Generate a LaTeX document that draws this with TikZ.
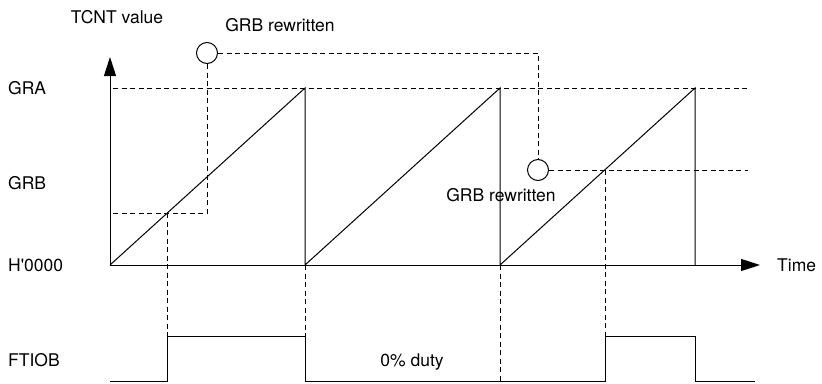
\documentclass[tikz,border=0pt]{standalone}
\usepackage{fontspec}
\setmainfont{TeX Gyre Heros}
\usetikzlibrary{arrows.meta, positioning}

\begin{document}
\begin{tikzpicture}[
        x=1pt, y=-1pt,
        >={Triangle[length=19pt, width=12pt]},
        font=\fontsize{17.5}{20}\selectfont,
        % Define Styles
        wave/.style={line width=1pt, line join=miter},
        guide/.style={line width=1pt, dash pattern=on 5pt off 3.5pt},
        marker/.style={circle, draw, line width=1pt, minimum size=21pt, inner sep=0pt},
        lbl/.style={inner sep=0pt}
    ]
    \useasboundingbox (0,0) rectangle (822,383);

    % --- KEY POINTS ---
    \coordinate (o) at (110,265);
    \coordinate (ytop) at (110,57);
    \coordinate (xend) at (760,265);
    \coordinate (p1) at (305,88);
    \coordinate (p2) at (500,88);
    \coordinate (p3) at (695,88);
    \coordinate (hit1) at (167,213);
    \coordinate (hit2) at (605,170);
    \coordinate (gral) at (113,88);
    \coordinate (grar) at (748,88);
    \coordinate (grbl) at (113,213);
    \coordinate (grbr) at (748,170);
    \coordinate (hi) at (0,336);
    \coordinate (lo) at (0,381);
    \coordinate (outend) at (755,381);

    % --- LABELS ---
    \node[lbl] (tcnt) at (117,17) {TCNT value};
    \node[lbl, anchor=west] (gra) at (8,88) {GRA};
    \node[lbl, anchor=west] (grb) at (8,183) {GRB};
    \node[lbl, anchor=west] (zero) at (8,265) {H\textquotesingle 0000};
    \node[lbl, anchor=west] (ftiob) at (8,360) {FTIOB};
    \node[lbl, anchor=west] (time) at (777,265) {Time};
    \node[lbl, anchor=base] (duty) at (412,366) {0\% duty};

    % --- REWRITE MARKERS ---
    \node[marker] (c1) at (207,53) {};
    \node[marker] (c2) at (538,170) {};
    \node[lbl] (rw1) at (280,25) {GRB rewritten};
    \node[lbl] (rw2) at (501,195) {GRB rewritten};

    % --- AXES ---
    \draw[wave, ->] (o) -- (ytop);
    \draw[wave, ->] (o) -- (xend);

    % --- TCNT SAWTOOTH ---
    \draw[wave] (o) -- (p1) -- (p1 |- o) -- (p2) -- (p2 |- o) -- (p3) -- (p3 |- o);

    % --- GUIDE LINES ---
    \draw[guide] (gral) -- (grar);
    \draw[guide] (c1) -- (c1 -| c2) -- (c2);
    \draw[guide] (c2) -- (grbr);
    \draw[guide] (c1) -- (c1 |- grbl) -- (grbl);
    \draw[guide] (hit1) -- (hit1 |- hi);
    \draw[guide] (hit2) -- (hit2 |- hi);
    \draw[guide] (p1 |- o) -- (p1 |- lo);
    \draw[guide] (p2 |- o) -- (p2 |- lo);

    % --- FTIOB OUTPUT ---
    \draw[wave] (o |- lo) -- (hit1 |- lo) -- (hit1 |- hi) -- (p1 |- hi) -- (p1 |- lo)
        -- (hit2 |- lo) -- (hit2 |- hi) -- (p3 |- hi) -- (p3 |- lo) -- (outend);

\end{tikzpicture}
\end{document}
